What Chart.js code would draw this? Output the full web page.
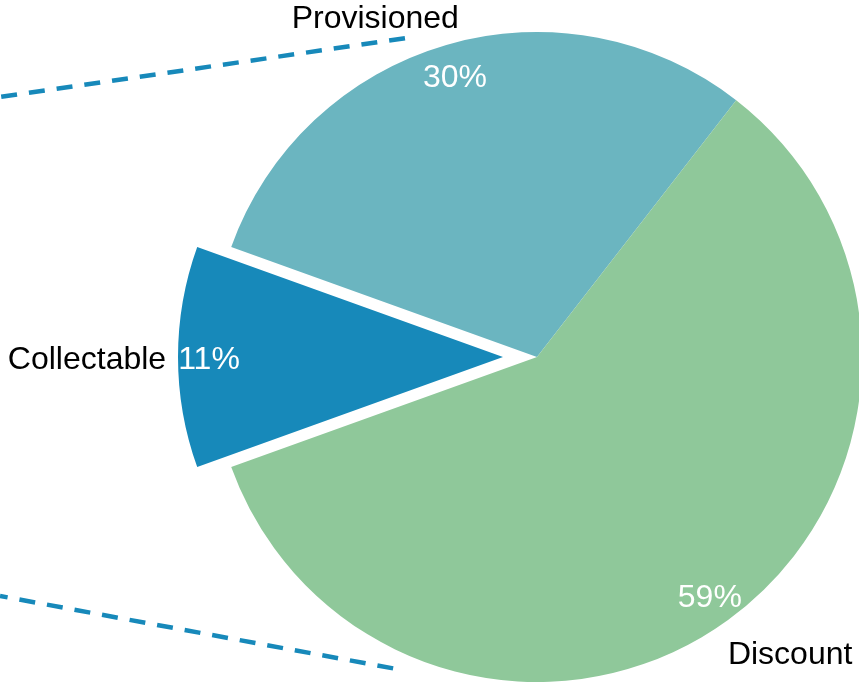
<!DOCTYPE html>
<html>
<head>
<meta charset="utf-8">
<title>Balance split</title>
<script src="https://cdn.jsdelivr.net/npm/chart.js@4.4.1/dist/chart.umd.min.js"></script>
<style>
  html, body { margin: 0; padding: 0; background: #fff; }
  canvas { display: block; }
</style>
</head>
<body>
<canvas id="pie" width="859" height="685"></canvas>
<script>
// share of the balance per category, in percent
const CATEGORIES = ["Collectable", "Provisioned", "Discount"];
const SHARES = [11, 30, 59];
const COLORS = ["#1789ba", "#6bb5c0", "#8fc89a"];

const FONT = "'Liberation Sans', Arial, sans-serif";
const FONT_SIZE = 32;
const EXPLODE = [34, 0, 0];   // px a slice is pulled out along its middle
// category name placement: [angle nudge in degrees, px beyond the rim]
const NAME_POS = [[0, 91], [-9.2, 52], [-4.6, 64]];
// dashed leaders toward the breakout chart: rim end (canvas angle, radius), far end (dx, dy from centre)
const LEADERS = [
  { a: 247.5, r: 345, to: [-537, -260] },
  { a: 114.8, r: 343, to: [-537, 239] },
];

const total = SHARES.reduce((s, v) => s + v, 0);
const rad = (d) => d * Math.PI / 180;

// pull exploded slices away from the centre without growing them
const explode = {
  id: "explode",
  afterDatasetUpdate(chart, args) {
    args.meta.data.forEach((arc, i) => {
      const d = EXPLODE[i] || 0;
      if (!d) return;
      const mid = (arc.startAngle + arc.endAngle) / 2;
      arc.x += Math.cos(mid) * d;
      arc.y += Math.sin(mid) * d;
    });
  },
};

const sliceLabels = {
  id: "sliceLabels",
  afterDatasetsDraw(chart) {
    const ctx = chart.ctx;
    const arcs = chart.getDatasetMeta(0).data;
    const centre = arcs[EXPLODE.indexOf(0)];

    ctx.save();
    ctx.strokeStyle = COLORS[0];
    ctx.lineWidth = 4.5;
    ctx.setLineDash([16, 12]);
    LEADERS.forEach((l) => {
      ctx.beginPath();
      ctx.moveTo(centre.x + Math.cos(rad(l.a)) * l.r, centre.y + Math.sin(rad(l.a)) * l.r);
      ctx.lineTo(centre.x + l.to[0], centre.y + l.to[1]);
      ctx.stroke();
    });
    ctx.setLineDash([]);

    ctx.font = `${FONT_SIZE}px ${FONT}`;
    ctx.textAlign = "center";
    ctx.textBaseline = "middle";
    const drop = 3; // glyphs sit a little low of the em box middle
    arcs.forEach((arc, i) => {
      const mid = (arc.startAngle + arc.endAngle) / 2;
      const r = arc.outerRadius;
      ctx.fillStyle = "#fff";
      ctx.fillText(Math.round(SHARES[i] / total * 100) + "%",
        arc.x + Math.cos(mid) * (r - 31), arc.y + Math.sin(mid) * (r - 31) + drop);
      const [da, dr] = NAME_POS[i];
      const a = mid + rad(da);
      ctx.fillStyle = "#000";
      ctx.fillText(CATEGORIES[i], arc.x + Math.cos(a) * (r + dr), arc.y + Math.sin(a) * (r + dr) + drop);
    });
    ctx.restore();
  },
};

new Chart(document.getElementById("pie"), {
  type: "pie",
  data: {
    labels: CATEGORIES,
    datasets: [{ data: SHARES, backgroundColor: COLORS, borderWidth: 0, clip: false }],
  },
  options: {
    responsive: false,
    animation: false,
    radius: 325,
    // keep the first slice centred on the left
    rotation: 270 - (SHARES[0] / total) * 180,
    layout: { padding: { left: 215, top: 29, right: 0, bottom: 0 } },
    plugins: { legend: { display: false }, tooltip: { enabled: false } },
    events: [],
  },
  plugins: [explode, sliceLabels],
});
</script>
</body>
</html>
